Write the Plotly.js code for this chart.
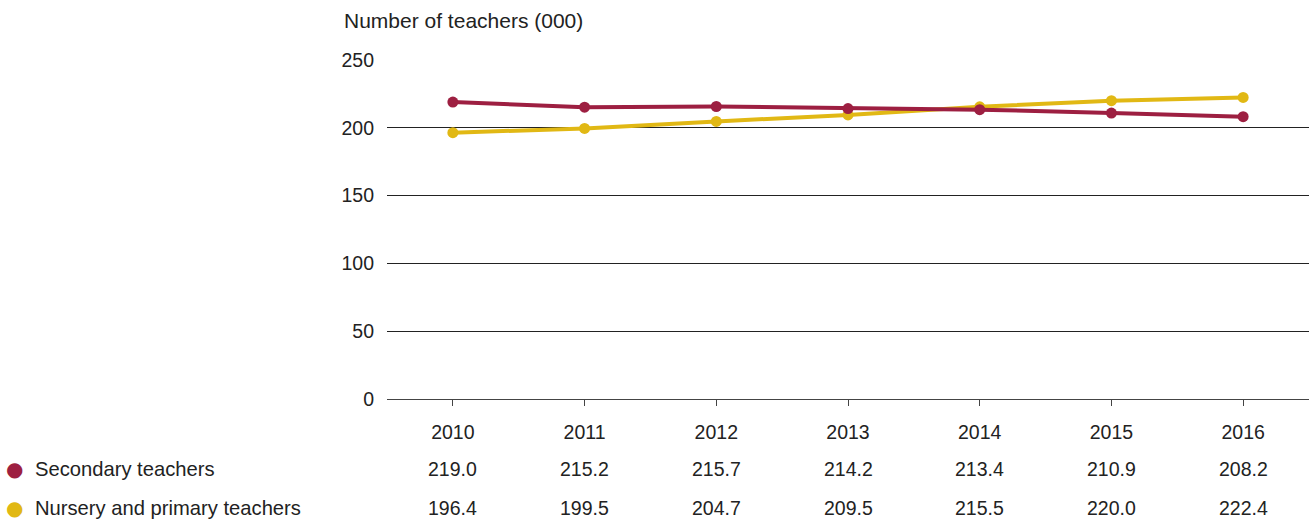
<!DOCTYPE html>
<html><head><meta charset="utf-8">
<script src="https://cdn.plot.ly/plotly-3.0.1.min.js"></script>
<style>html,body{margin:0;padding:0;background:#fff;}#chart{width:1309px;height:522px;}</style>
</head><body><div id="chart"></div>
<script>
const years = ['2010','2011','2012','2013','2014','2015','2016'];
const secondary = [219.0, 215.2, 215.7, 214.2, 213.4, 210.9, 208.2];
const nursery = [196.4, 199.5, 204.7, 209.5, 215.5, 220.0, 222.4];
const seriesNames = ['Secondary teachers', 'Nursery and primary teachers'];
const seriesColors = ['#9d1f41', '#e1b814'];
const yTitle = 'Number of teachers (000)';

const W = 1309, H = 522;
const mL = 387, mR = 0, mT = 60, mB = 123;
const pw = W - mL - mR, ph = H - mT - mB;
const fam = 'Liberation Sans, Arial, sans-serif';
const numFont = {family: fam, size: 19.5, color: '#222'};
const txtFont = {family: fam, size: 20.2, color: '#222'};
const titleFont = {family: fam, size: 21, color: '#222'};

const seriesData = [secondary, nursery];
const traces = seriesData.map((d, i) => ({
  type: 'scatter', mode: 'lines+markers', x: years, y: d,
  line: {color: seriesColors[i], width: 4},
  marker: {color: seriesColors[i], size: 11},
  name: seriesNames[i], hoverinfo: 'x+y'
}));
traces.reverse();

const annotations = [];
annotations.push({xref: 'paper', yref: 'paper', x: (342 - mL) / pw, y: 1 + (mT - 20) / ph,
  xanchor: 'left', yanchor: 'middle', text: yTitle, showarrow: false, font: titleFont});
const rowY = [469, 508];
seriesData.forEach((d, i) => {
  const py = (mT + ph - rowY[i]) / ph;
  annotations.push({xref: 'paper', yref: 'paper', x: (14 - mL) / pw, y: py, xanchor: 'center', yanchor: 'middle',
    text: '●', showarrow: false, font: {family: 'DejaVu Sans', size: 20, color: seriesColors[i]}});
  annotations.push({xref: 'paper', yref: 'paper', x: (33 - mL) / pw, y: py, xanchor: 'left', yanchor: 'middle',
    text: seriesNames[i], showarrow: false, font: txtFont});
  d.forEach((v, j) => {
    annotations.push({xref: 'x', yref: 'paper', x: j, y: py, xanchor: 'center', yanchor: 'middle',
      text: v.toFixed(1), showarrow: false, font: numFont});
  });
});

const layout = {
  width: W, height: H,
  margin: {l: mL, r: mR, t: mT, b: mB, pad: 0},
  paper_bgcolor: '#fff', plot_bgcolor: '#fff',
  showlegend: false, font: numFont,
  xaxis: {type: 'category', range: [-0.5, 6.5], showgrid: false, zeroline: false,
    showline: true, linecolor: '#444', linewidth: 1.2, ticks: 'outside', ticklen: 6, tickcolor: '#444',
    tickwidth: 1, tickfont: numFont, ticklabelstandoff: 9, fixedrange: true},
  yaxis: {range: [0, 250], tickvals: [0, 50, 100, 150, 200, 250], showgrid: true, gridcolor: '#222', gridwidth: 1,
    zeroline: false, showline: false, ticks: '', tickfont: numFont, ticklabelstandoff: 12, fixedrange: true},
  annotations: annotations
};
Plotly.newPlot('chart', traces, layout, {displayModeBar: false, staticPlot: true});
</script></body></html>
